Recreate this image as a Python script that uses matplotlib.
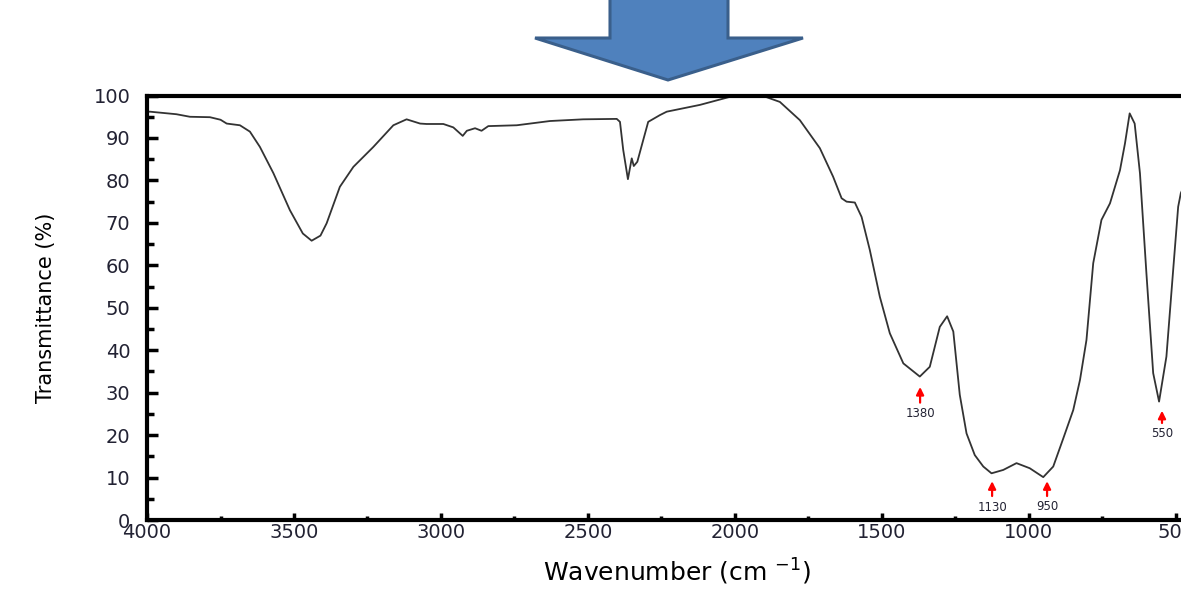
import matplotlib
matplotlib.use("Agg")
import matplotlib.pyplot as plt
from matplotlib.patches import Polygon

# FTIR spectrum
wavenumber = [4000, 3990, 3900, 3854, 3786, 3750, 3729, 3684, 3650, 3616,
              3570, 3514, 3470, 3440, 3410, 3389, 3344, 3298, 3230, 3162,
              3117, 3071, 3049, 2992, 2958, 2926, 2912, 2884, 2862, 2839,
              2742, 2629, 2516, 2402, 2391, 2380, 2364, 2351, 2344, 2332,
              2312, 2295, 2255, 2232, 2119, 2006, 1950, 1904, 1847, 1779,
              1711, 1666, 1637, 1620, 1592, 1569, 1541, 1507, 1473, 1427,
              1371, 1337, 1303, 1278, 1257, 1235, 1212, 1184, 1155, 1127,
              1087, 1042, 997, 951, 917, 883, 849, 826, 804, 781,
              753, 724, 690, 673, 657, 640, 622, 600, 577, 557,
              532, 509, 492, 483, 470]
transmittance = [96.2, 96.2, 95.6, 95.0, 94.9, 94.3, 93.4, 93.0, 91.5, 87.9,
                 81.7, 73.0, 67.5, 65.8, 67.0, 69.9, 78.5, 83.2, 87.9, 93.0,
                 94.4, 93.4, 93.3, 93.3, 92.5, 90.5, 91.7, 92.3, 91.7, 92.8,
                 93.0, 94.0, 94.4, 94.5, 93.8, 87.2, 80.3, 85.2, 83.4, 84.4,
                 89.5, 93.8, 95.4, 96.2, 97.8, 99.9, 100.0, 99.9, 98.5, 94.2,
                 87.6, 80.9, 75.8, 75.0, 74.8, 71.4, 63.6, 52.6, 44.0, 36.9,
                 33.8, 36.1, 45.5, 48.0, 44.4, 29.5, 20.4, 15.3, 12.6, 11.0,
                 11.8, 13.4, 12.2, 10.1, 12.6, 19.2, 25.9, 33.0, 42.4, 60.5,
                 70.7, 74.6, 82.4, 88.7, 95.8, 93.4, 81.7, 58.1, 34.6, 27.9,
                 38.5, 58.9, 73.8, 77.0, 79.0]

# marked bands: arrow x, arrow tip, arrow tail, label y
peak_labels = ["1380", "1130", "950", "550"]
peak_x = [1370, 1125, 938, 547]
peak_tip = [32.0, 9.8, 9.8, 26.4]
peak_tail = [27.0, 5.0, 5.0, 22.2]
peak_text_y = [25.0, 3.0, 3.3, 20.4]

fig = plt.figure(figsize=(11.81, 5.92), dpi=100)
ax = fig.add_axes([0.1245, 0.1216, 0.896, 0.717])

ax.plot(wavenumber, transmittance, color="#333333", lw=1.3)

for lab, x, tip, tail, ty in zip(peak_labels, peak_x, peak_tip, peak_tail, peak_text_y):
    ax.annotate("", xy=(x, tip), xytext=(x, tail),
                arrowprops=dict(arrowstyle="-|>", color="red", lw=1.6, mutation_scale=11))
    ax.text(x, ty, lab, ha="center", va="center", fontsize=8.5, color="#222233")

ax.set_xlim(4000, 400)
ax.set_ylim(0, 100)
ax.set_xticks(range(4000, 399, -500))
ax.set_xticks(range(3750, 399, -500), minor=True)
ax.set_yticks(range(0, 101, 10))
ax.set_yticks(range(5, 100, 10), minor=True)

for side in ["left", "top", "bottom", "right"]:
    ax.spines[side].set_linewidth(3)
    ax.spines[side].set_color("black")

ax.tick_params(axis="y", which="major", direction="in", length=8, width=2.5,
               labelsize=14, pad=12, labelcolor="#222233")
ax.tick_params(axis="y", which="minor", direction="in", length=5, width=2.5)
ax.tick_params(axis="x", which="major", direction="in", length=5, width=2.5,
               labelsize=14, pad=2, labelcolor="#222233")
ax.tick_params(axis="x", which="minor", direction="in", length=3, width=2.5)

ax.set_ylabel("Transmittance (%)", fontsize=15, va="center")
ax.yaxis.set_label_coords(-0.0955, 0.5)
ax.set_xlabel("Wavenumber (cm $^{-1}$)", fontsize=18, va="center")
ax.xaxis.set_label_coords(0.501, -0.1226)

# big blue block arrow above the plot (pixel coords -> figure fraction)
W, H = 1181, 592
arrow_px = [(610, -5), (728, -5), (728, 38), (803, 38), (668, 80), (535, 38), (610, 38)]
arrow_pts = [(x / W, 1 - y / H) for x, y in arrow_px]
fig.patches.append(Polygon(arrow_pts, closed=True, transform=fig.transFigure,
                           facecolor="#4F81BD", edgecolor="#3A5F8B", lw=2.2))

fig.savefig("out.png", dpi=100)
